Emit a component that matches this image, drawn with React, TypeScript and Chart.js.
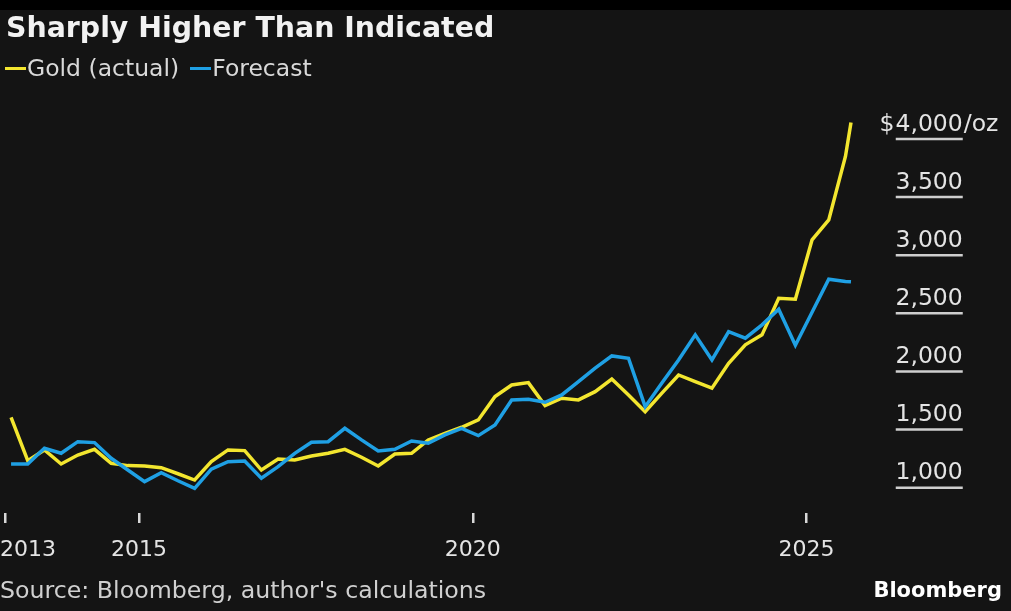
import React, { useEffect, useRef } from "react";
import { Chart, registerables } from "chart.js";

Chart.register(...registerables);

const dates = [
  "2013-02", "2013-05", "2013-08", "2013-11",
  "2014-02", "2014-05", "2014-08", "2014-11",
  "2015-02", "2015-05", "2015-08", "2015-11",
  "2016-02", "2016-05", "2016-08", "2016-11",
  "2017-02", "2017-05", "2017-08", "2017-11",
  "2018-02", "2018-05", "2018-08", "2018-11",
  "2019-02", "2019-05", "2019-08", "2019-11",
  "2020-02", "2020-05", "2020-08", "2020-11",
  "2021-02", "2021-05", "2021-08", "2021-11",
  "2022-02", "2022-05", "2022-08", "2022-11",
  "2023-02", "2023-05", "2023-08", "2023-11",
  "2024-02", "2024-05", "2024-08", "2024-11",
  "2025-02", "2025-05", "2025-08", "2025-09",
];

const goldActual = [
  1606, 1232, 1325, 1204,
  1281, 1330, 1210, 1190,
  1187, 1172, 1120, 1066,
  1224, 1325, 1319, 1152,
  1247, 1238, 1273, 1296,
  1330, 1262, 1187, 1290,
  1296, 1411, 1468, 1520,
  1583, 1784, 1884, 1904,
  1706, 1770, 1755, 1826,
  1935, 1798, 1654, 1813,
  1970, 1913, 1856, 2071,
  2229, 2315, 2630, 2622,
  3132, 3304, 3850, 4142,
];

const forecast = [
  1204, 1204, 1339, 1296,
  1396, 1388, 1253, 1152,
  1052, 1129, 1060, 995,
  1160, 1224, 1230, 1081,
  1181, 1296, 1391, 1396,
  1511, 1411, 1316, 1330,
  1402, 1382, 1454, 1511,
  1448, 1540, 1755, 1761,
  1735, 1798, 1913, 2028,
  2134, 2114, 1697, 1900,
  2099, 2315, 2099, 2343,
  2286, 2401, 2536, 2225,
  2510, 2794, 2774, 2771,
];

const xTickValues = [2013, 2015, 2020, 2025];
const xTickLabels = ["2013", "2015", "2020", "2025"];
const yTickValues = [1000, 1500, 2000, 2500, 3000, 3500, 4000];
const yTickLabels = ["1,000", "1,500", "2,000", "2,500", "3,000", "3,500", "4,000"];

const GOLD = "#f3e62f";
const BLUE = "#1fa0e4";
const FONT = '"DejaVu Sans", sans-serif';

function toYear(d: string): number {
  const [y, m] = d.split("-").map(Number);
  return y + (m - 1) / 12;
}

const overlayPlugin = {
  id: "overlay",
  afterDraw(chart: any) {
    const ctx = chart.ctx as CanvasRenderingContext2D;
    const ys = chart.scales.y;
    const xs = chart.scales.x;
    const area = chart.chartArea;
    ctx.save();
    // right-hand value labels with short underlines
    const right = area.right + 89.5;
    ctx.font = `23.5px ${FONT}`;
    ctx.textBaseline = "alphabetic";
    yTickValues.forEach((v, i) => {
      const py = ys.getPixelForValue(v);
      ctx.strokeStyle = "#cfcfcf";
      ctx.lineWidth = 2.5;
      ctx.beginPath();
      ctx.moveTo(right - 67, py);
      ctx.lineTo(right, py);
      ctx.stroke();
      const label = yTickLabels[i];
      ctx.fillStyle = "#e4e4e4";
      ctx.textAlign = "right";
      ctx.fillText(label, right, py - 8.5);
      if (i === yTickValues.length - 1) {
        const w = ctx.measureText(label).width;
        ctx.fillText("$", right - w - 1, py - 8.5);
        ctx.textAlign = "left";
        ctx.fillText("/oz", right + 1, py - 8.5);
      }
    });
    // x labels
    ctx.font = `22px ${FONT}`;
    ctx.fillStyle = "#e4e4e4";
    ctx.textAlign = "left";
    xTickValues.forEach((v, i) => {
      const px = xs.getPixelForValue(v);
      const label = xTickLabels[i];
      const w = ctx.measureText(label).width;
      const left = Math.max(0, px - w / 2);
      ctx.fillText(label, left, area.bottom + 43);
    });
    ctx.restore();
  },
};

export default function App() {
  const canvasRef = useRef<HTMLCanvasElement | null>(null);

  useEffect(() => {
    document.body.style.margin = "0";
    document.body.style.background = "#000";
    const canvas = canvasRef.current;
    if (!canvas) return;
    const xs = dates.map(toYear);
    const chart = new Chart(canvas, {
      type: "line",
      data: {
        datasets: [
          {
            label: "Forecast",
            data: xs.map((x, i) => ({ x, y: forecast[i] })),
            borderColor: BLUE,
            borderWidth: 3.5,
            pointRadius: 0,
            tension: 0,
            fill: false,
          },
          {
            label: "Gold (actual)",
            data: xs.map((x, i) => ({ x, y: goldActual[i] })),
            borderColor: GOLD,
            borderWidth: 3.5,
            pointRadius: 0,
            tension: 0,
            fill: false,
          },
        ],
      },
      options: {
        animation: false,
        responsive: false,
        maintainAspectRatio: false,
        layout: { padding: { left: 5.5, right: 137.75, top: 100, bottom: 88 } },
        plugins: {
          legend: { display: false },
          tooltip: { enabled: false },
          title: { display: false },
        },
        scales: {
          x: {
            type: "linear",
            min: 2013,
            max: 2026,
            afterBuildTicks: (s: any) => {
              s.ticks = xTickValues.map((v) => ({ value: v }));
            },
            grid: {
              display: true,
              drawOnChartArea: false,
              drawTicks: true,
              tickLength: 10,
              color: "#d8d8d8",
              lineWidth: 2.5,
            },
            border: { display: false },
            ticks: { display: false },
          },
          y: {
            type: "linear",
            min: 782.3,
            max: 4335.6,
            display: false,
          },
        },
      },
      plugins: [overlayPlugin],
    });
    return () => chart.destroy();
  }, []);

  return (
    <div
      style={{
        position: "fixed",
        left: 0,
        top: 0,
        width: 1011,
        height: 611,
        background: "#000",
        overflow: "hidden",
        fontFamily: FONT,
      }}
    >
      <div style={{ position: "absolute", left: 0, top: 10, width: 1011, height: 601, background: "#141414" }} />
      <canvas
        ref={canvasRef}
        width={1011}
        height={611}
        style={{ position: "absolute", left: 0, top: 0, width: 1011, height: 611 }}
      />
      <div
        style={{
          position: "absolute",
          left: 6,
          top: 14,
          fontSize: 28.4,
          lineHeight: "28px",
          fontWeight: "bold",
          color: "#f2f2f2",
          whiteSpace: "nowrap",
        }}
      >
        Sharply Higher Than Indicated
      </div>
      <div
        style={{
          position: "absolute",
          left: 5,
          top: 57,
          fontSize: 23.5,
          lineHeight: "23.5px",
          color: "#d9d9d9",
          whiteSpace: "nowrap",
          display: "flex",
          alignItems: "center",
        }}
      >
        <span style={{ display: "inline-block", width: 21, height: 3, background: GOLD, marginRight: 1 }} />
        <span>Gold (actual)</span>
        <span style={{ display: "inline-block", width: 21, height: 3, background: BLUE, marginLeft: 11, marginRight: 1 }} />
        <span>Forecast</span>
      </div>
      <div
        style={{
          position: "absolute",
          left: 0,
          top: 579,
          fontSize: 23.7,
          lineHeight: "23.5px",
          color: "#d0d0d0",
          whiteSpace: "nowrap",
        }}
      >
        Source: Bloomberg, author's calculations
      </div>
      <div
        style={{
          position: "absolute",
          right: 9,
          top: 580,
          fontSize: 21,
          lineHeight: "21px",
          fontWeight: "bold",
          color: "#ffffff",
          whiteSpace: "nowrap",
        }}
      >
        Bloomberg
      </div>
    </div>
  );
}
